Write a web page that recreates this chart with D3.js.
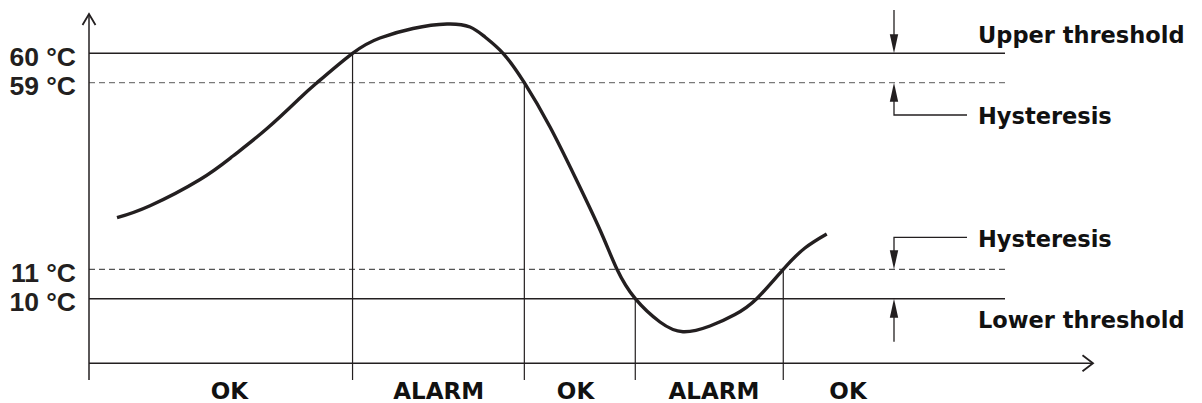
<!DOCTYPE html>
<html>
<head>
<meta charset="utf-8">
<script src="https://cdn.jsdelivr.net/npm/d3@7"></script>
<style>
  body { margin: 0; background: #fff; }
  svg { display: block; }
</style>
</head>
<body>
<div id="chart"></div>
<script>
// temperature curve (time in arbitrary units, temperature in °C)
var times = [2.79, 6.08, 11.06, 14.34, 17.73, 21.02, 22.71, 26.25, 28.98, 32.27, 35.66, 37.95, 39.44, 41.24,
             43.36, 45.92, 48.41, 50.9, 52.59, 54.41, 56.87, 59.16, 61.85, 64.34, 66.5, 69.15, 71.31, 73.48];
var temps = [24.27, 27.36, 34.1, 40.14, 47.2, 55.07, 59, 60, 63.89, 66.31, 67.46, 66.69, 64.15, 60,
             59, 47.6, 34.74, 21.11, 11, 10, 4.07, 1.6, 3.05, 5.98, 10, 11, 16.48, 20.08];

// threshold levels and their tick labels
var levelTemps = [60, 59, 11, 10];
var levelLabels = ["60 °C", "59 °C", "11 °C", "10 °C"];

// switching events (where the state changes)
var eventTimes = [26.25, 43.36, 54.41, 69.15];
var eventTemps = [60, 59, 10, 11];

// state labels below the time axis
var stateLabels = ["OK", "ALARM", "OK", "ALARM", "OK"];
var stateTimes = [13.99, 34.83, 48.46, 62.25, 75.6];

// annotations on the right
var noteLabels = ["Upper threshold", "Hysteresis", "Hysteresis", "Lower threshold"];
var noteTemps = [60, 59, 11, 10];

var width = 1202, height = 403;
var svg = d3.select("#chart").append("svg")
    .attr("width", width)
    .attr("height", height);

var x = d3.scaleLinear().domain([0, 100]).range([89, 1093]);
// schematic (non uniform) temperature axis
var y = d3.scaleLinear().domain([0, 10, 11, 59, 60, 70]).range([338, 298.7, 269.3, 82.7, 53.3, 14]);

var axisY = 363.3, lineEnd = 1005, tickBottom = 380;
var ink = "#231f20";

// threshold lines
levelTemps.forEach(function(t) {
    var dashed = (t === 59 || t === 11);
    svg.append("line")
        .attr("x1", x(0)).attr("x2", lineEnd)
        .attr("y1", y(t)).attr("y2", y(t))
        .attr("stroke", dashed ? (t === 59 ? "#7a7a7a" : "#555") : ink)
        .attr("stroke-width", dashed ? 1.3 : 1.6)
        .attr("stroke-dasharray", dashed ? "6,4" : null);
});

// event markers
eventTimes.forEach(function(t, i) {
    svg.append("line")
        .attr("x1", x(t)).attr("x2", x(t))
        .attr("y1", y(eventTemps[i])).attr("y2", tickBottom)
        .attr("stroke", ink).attr("stroke-width", 1.2);
});

// axes
svg.append("line")
    .attr("x1", x(0)).attr("x2", x(0))
    .attr("y1", tickBottom).attr("y2", y(70))
    .attr("stroke", ink).attr("stroke-width", 1.5);
svg.append("path")
    .attr("d", "M" + (x(0) - 6.5) + "," + (y(70) + 11) + "L" + x(0) + "," + y(70) + "L" + (x(0) + 6.5) + "," + (y(70) + 11))
    .attr("fill", "none").attr("stroke", ink).attr("stroke-width", 1.8);
svg.append("line")
    .attr("x1", x(0)).attr("x2", x(100))
    .attr("y1", axisY).attr("y2", axisY)
    .attr("stroke", ink).attr("stroke-width", 1.5);
svg.append("path")
    .attr("d", "M" + (x(100) - 10.5) + "," + (axisY - 8) + "L" + x(100) + "," + axisY + "L" + (x(100) - 10.5) + "," + (axisY + 8))
    .attr("fill", "none").attr("stroke", ink).attr("stroke-width", 1.8);

// tick labels via d3 axis
var yAxis = d3.axisLeft(y)
    .tickValues(levelTemps)
    .tickFormat(function(d, i) { return levelLabels[i]; })
    .tickSize(0)
    .tickPadding(13);
var gY = svg.append("g").attr("transform", "translate(" + x(0) + ",0)").call(yAxis);
gY.select(".domain").remove();
gY.selectAll("text")
    .attr("dy", "0.45em")
    .attr("fill", ink)
    .style("font-family", "'Liberation Sans', Arial, sans-serif")
    .style("font-weight", "bold")
    .style("font-size", "26.5px");

// temperature curve
var line = d3.line()
    .x(function(d) { return x(d[0]); })
    .y(function(d) { return y(d[1]); })
    .curve(d3.curveNatural);
svg.append("path")
    .datum(times.map(function(t, i) { return [t, temps[i]]; }))
    .attr("d", line)
    .attr("fill", "none")
    .attr("stroke", ink)
    .attr("stroke-width", 3.4)
    .attr("stroke-linecap", "butt");

// state labels
svg.selectAll(".state")
    .data(stateLabels)
    .enter().append("text")
    .attr("class", "state")
    .attr("x", function(d, i) { return x(stateTimes[i]); })
    .attr("y", 398.5)
    .attr("text-anchor", "middle")
    .attr("fill", "#111")
    .style("font-family", "'DejaVu Sans', Verdana, sans-serif")
    .style("font-weight", "bold")
    .style("font-size", "23px")
    .text(function(d) { return d; });

// right-hand annotations
var ax = 894, elbowX = 967, textX = 978;
function arrowHead(tipY, dir) {
    // dir = 1 points down, -1 points up
    var base = tipY - dir * 19;
    return "M" + ax + "," + tipY + "L" + (ax - 4.2) + "," + base + "L" + (ax + 4.2) + "," + base + "Z";
}
function drawNote(path, tipY, dir) {
    svg.append("path").attr("d", path).attr("fill", "none").attr("stroke", ink).attr("stroke-width", 1.3);
    svg.append("path").attr("d", arrowHead(tipY, dir)).attr("fill", ink);
}
var t0 = y(noteTemps[0]), t1 = y(noteTemps[1]), t2 = y(noteTemps[2]), t3 = y(noteTemps[3]);
drawNote("M" + ax + ",10L" + ax + "," + (t0 - 10), t0, 1);
drawNote("M" + ax + "," + (t1 + 10) + "L" + ax + "," + (t1 + 32.3) + "L" + elbowX + "," + (t1 + 32.3), t1, -1);
drawNote("M" + elbowX + "," + (t2 - 32) + "L" + ax + "," + (t2 - 32) + "L" + ax + "," + (t2 - 10), t2, 1);
drawNote("M" + ax + "," + (t3 + 10) + "L" + ax + "," + (t3 + 43), t3, -1);

var noteBaselines = [t0 - 10, t1 + 41.3, t2 - 22.6, t3 + 29.6];
svg.selectAll(".note")
    .data(noteLabels)
    .enter().append("text")
    .attr("class", "note")
    .attr("x", textX)
    .attr("y", function(d, i) { return noteBaselines[i]; })
    .attr("fill", "#111")
    .style("font-family", "'DejaVu Sans', Verdana, sans-serif")
    .style("font-weight", "bold")
    .style("font-size", "22.5px")
    .text(function(d) { return d; });
</script>
</body>
</html>
